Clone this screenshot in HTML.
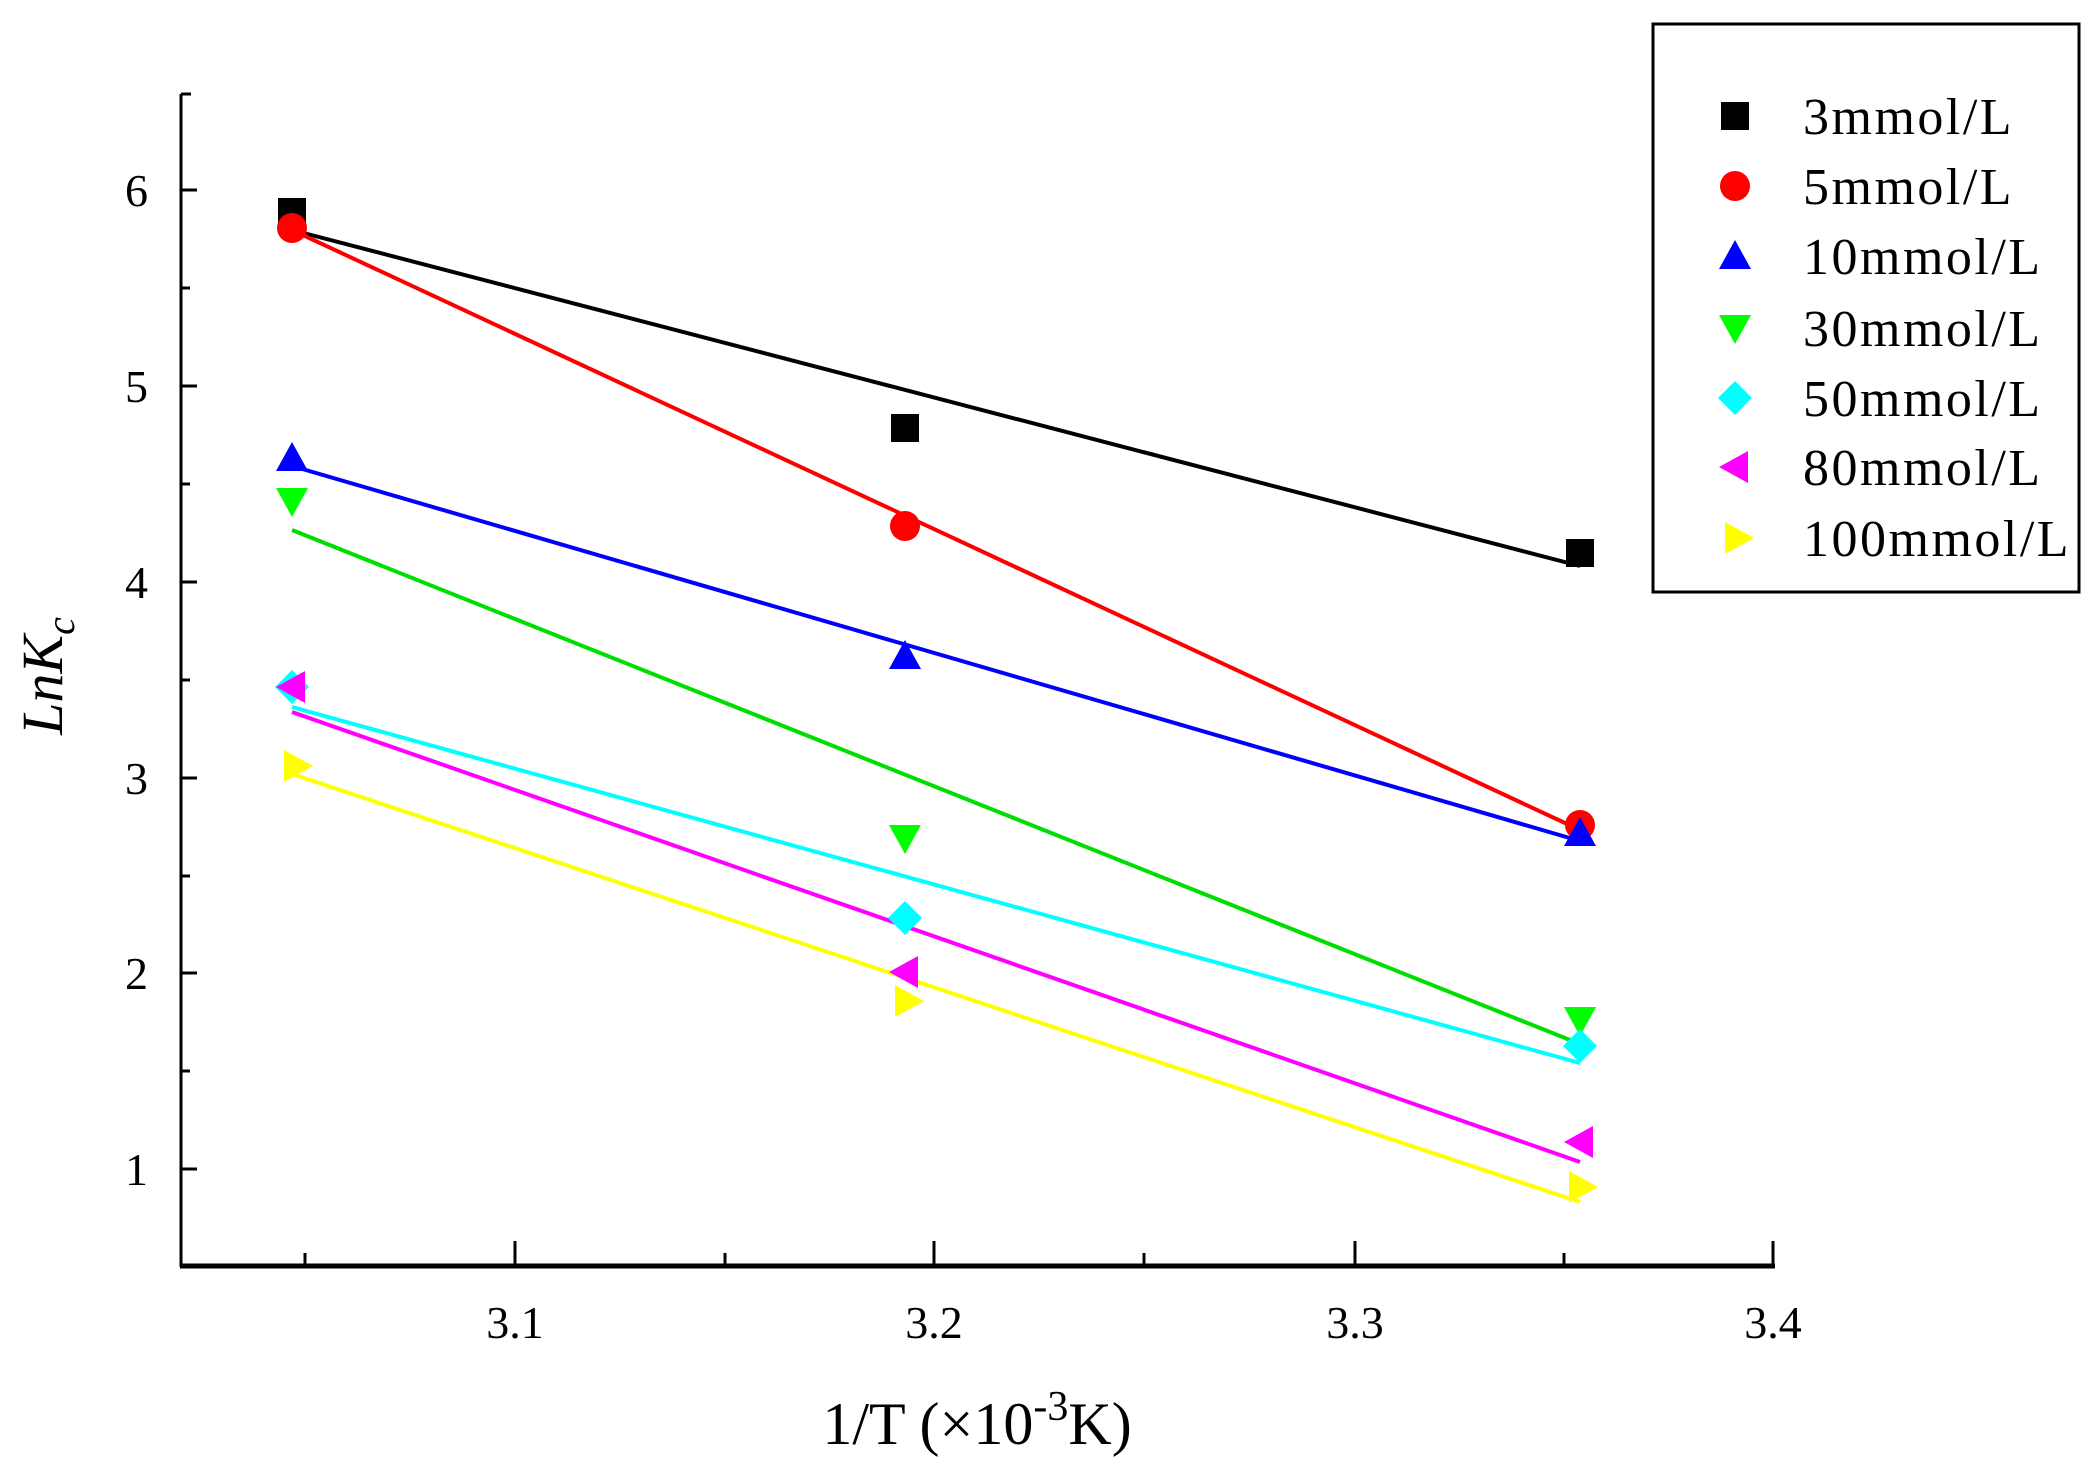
<!DOCTYPE html>
<html><head><meta charset="utf-8"><style>html,body{margin:0;padding:0;background:#fff}svg{display:block}</style></head>
<body>
<svg width="2099" height="1471" viewBox="0 0 2099 1471" xmlns="http://www.w3.org/2000/svg" font-family="Liberation Serif, serif">
<rect width="2099" height="1471" fill="#fff"/>
<line x1="181" y1="94" x2="181" y2="1267" stroke="#000" stroke-width="3"/>
<line x1="180" y1="1266" x2="1775" y2="1266" stroke="#000" stroke-width="5"/>
<g stroke="#000" stroke-width="3">
<line x1="181" y1="94" x2="191" y2="94"/>
<line x1="181" y1="190" x2="197" y2="190"/><line x1="181" y1="386" x2="197" y2="386"/><line x1="181" y1="582" x2="197" y2="582"/><line x1="181" y1="778" x2="197" y2="778"/><line x1="181" y1="973" x2="197" y2="973"/><line x1="181" y1="1169" x2="197" y2="1169"/>
<line x1="181" y1="288" x2="190" y2="288"/><line x1="181" y1="484" x2="190" y2="484"/><line x1="181" y1="680" x2="190" y2="680"/><line x1="181" y1="876" x2="190" y2="876"/><line x1="181" y1="1071" x2="190" y2="1071"/>
<line x1="305" y1="1266" x2="305" y2="1253"/><line x1="515" y1="1266" x2="515" y2="1241"/><line x1="725" y1="1266" x2="725" y2="1253"/><line x1="934" y1="1266" x2="934" y2="1241"/><line x1="1144" y1="1266" x2="1144" y2="1253"/><line x1="1355" y1="1266" x2="1355" y2="1241"/><line x1="1564" y1="1266" x2="1564" y2="1253"/><line x1="1773" y1="1266" x2="1773" y2="1241"/>
</g>
<g font-size="46" text-anchor="middle" fill="#000">
<text x="515" y="1338">3.1</text><text x="934" y="1338">3.2</text><text x="1355" y="1338">3.3</text><text x="1773" y="1338">3.4</text>
</g>
<g font-size="46" text-anchor="end" fill="#000">
<text x="148" y="206">6</text><text x="148" y="402">5</text><text x="148" y="598">4</text><text x="148" y="794">3</text><text x="148" y="989">2</text><text x="148" y="1185">1</text>
</g>
<text x="977" y="1444" font-size="60" text-anchor="middle">1/T (×10<tspan dy="-24" font-size="42">-3</tspan><tspan dy="24">K)</tspan></text>
<text transform="translate(62,676) rotate(-90)" font-size="58" font-style="italic" text-anchor="middle">LnK<tspan dy="12" font-size="40">c</tspan></text>
<g stroke-width="4" fill="none">
<line x1="292" y1="230" x2="1580" y2="566" stroke="#000"/>
<line x1="292" y1="230" x2="1580" y2="830" stroke="#f00"/>
<line x1="292" y1="466" x2="1580" y2="841" stroke="#00f"/>
<line x1="292" y1="530" x2="1580" y2="1044" stroke="#0d0"/>
<line x1="292" y1="707" x2="1580" y2="1063" stroke="#0ff"/>
<line x1="292" y1="712" x2="1580" y2="1162" stroke="#f0f"/>
<line x1="292" y1="774" x2="1580" y2="1202" stroke="#ff0"/>
</g>
<defs>
<rect id="sq" x="-14" y="-14" width="28" height="28" fill="#000"/>
<circle id="ci" r="15" fill="#f00"/>
<polygon id="tu" points="0,-16 16,13 -16,13" fill="#00f"/>
<polygon id="td" points="0,16 16,-13 -16,-13" fill="#0f0"/>
<polygon id="di" points="0,-17 17,0 0,17 -17,0" fill="#0ff"/>
<polygon id="tl" points="-16,0 13,-16 13,16" fill="#f0f"/>
<polygon id="tr" points="16,0 -13,-16 -13,16" fill="#ff0"/>
</defs>
<use href="#sq" x="292" y="212"/><use href="#sq" x="905" y="428"/><use href="#sq" x="1580" y="553"/>
<use href="#ci" x="292" y="228"/><use href="#ci" x="905" y="526"/><use href="#ci" x="1580" y="825"/>
<use href="#tu" x="292" y="458"/><use href="#tu" x="905" y="656"/><use href="#tu" x="1580" y="833"/>
<use href="#td" x="292" y="501"/><use href="#td" x="905" y="838"/><use href="#td" x="1580" y="1020"/>
<use href="#di" x="292" y="687"/><use href="#di" x="905" y="918"/><use href="#di" x="1580" y="1046"/>
<use href="#tl" x="292" y="687"/><use href="#tl" x="905" y="972"/><use href="#tl" x="1580" y="1142"/>
<use href="#tr" x="297" y="766"/><use href="#tr" x="908" y="1001"/><use href="#tr" x="1582" y="1187"/>
<rect x="1653" y="24" width="426" height="568" fill="none" stroke="#000" stroke-width="3"/>
<use href="#sq" x="1735" y="116"/><use href="#ci" x="1735" y="186"/><use href="#tu" x="1735" y="256"/><use href="#td" x="1735" y="328"/><use href="#di" x="1735" y="398"/><use href="#tl" x="1735" y="467"/><use href="#tr" x="1738" y="538"/>
<g font-size="52" fill="#000" letter-spacing="2.5">
<text x="1803" y="134">3mmol/L</text><text x="1803" y="204">5mmol/L</text><text x="1803" y="274">10mmol/L</text><text x="1803" y="346">30mmol/L</text><text x="1803" y="416">50mmol/L</text><text x="1803" y="485">80mmol/L</text><text x="1803" y="556">100mmol/L</text>
</g>
</svg>
</body></html>
